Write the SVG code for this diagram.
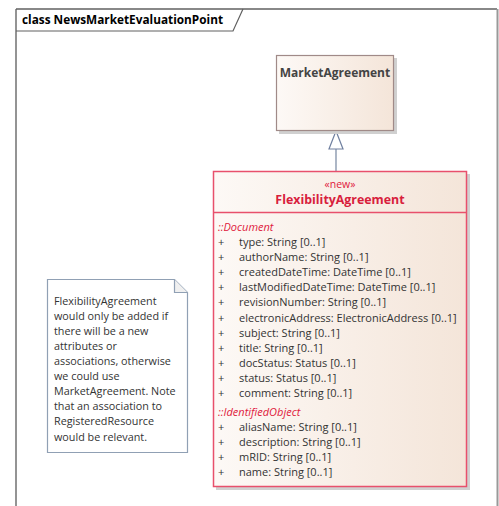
<svg xmlns="http://www.w3.org/2000/svg" width="499" height="506" viewBox="0 0 499 506">
<defs>
<linearGradient id="gClass" x1="0" y1="0" x2="1" y2="0">
<stop offset="0" stop-color="#fdf9f6"/>
<stop offset="1" stop-color="#f4e5d9"/>
</linearGradient>
<style>
.t{font-family:"Open Sans","Noto Sans","DejaVu Sans",sans-serif;}
.title{font-size:11.8px;font-weight:bold;fill:#000;}
.cname{font-weight:bold;}
.attr{font-size:11px;fill:#333;}
.sec{font-size:11px;font-style:italic;fill:#e0203c;}
.note{font-size:10.8px;fill:#333;}
.shadow{fill:#d0d0d0;}
</style>
</defs>
<rect width="499" height="506" fill="#fff"/>
<g id="frame">
<line x1="16" y1="9" x2="16" y2="506" stroke="#707070" stroke-width="1.5"/>
<line x1="16" y1="9" x2="497" y2="9" stroke="#606060" stroke-width="1.5"/>
<line x1="497.5" y1="9" x2="497.5" y2="506" stroke="#999" stroke-width="2"/>
<polyline points="16,31 233,31 243,9" fill="none" stroke="#606060" stroke-width="1.2"/>
<text class="t title" x="22" y="24">class NewsMarketEvaluationPoint</text>
</g>
<g id="connectors">
<line x1="336" y1="149" x2="336" y2="171" stroke="#8090a8" stroke-width="1.3"/>
<polygon points="336,131 329,149 343,149" fill="#fff" stroke="#7080a0" stroke-width="1.2"/>
</g>
<g id="MarketAgreement">
<rect class="shadow" x="279" y="58" width="118" height="76"/>
<rect x="276.5" y="55.5" width="117" height="75" fill="url(#gClass)" stroke="#a08a88" stroke-width="1.2"/>
<text class="t cname" x="335" y="77" text-anchor="middle" font-size="12" fill="#444">MarketAgreement</text>
</g>
<g id="FlexibilityAgreement">
<rect class="shadow" x="216" y="174" width="254" height="316"/>
<rect x="213.5" y="171.5" width="253" height="315" fill="url(#gClass)" stroke="#e8506c" stroke-width="1.5"/>
<line x1="213.5" y1="212.5" x2="466.5" y2="212.5" stroke="#e8506c" stroke-width="1.5"/>
<text class="t" x="340" y="188" text-anchor="middle" font-size="10.5" fill="#e0203c">«new»</text>
<text class="t cname" x="340" y="203.5" text-anchor="middle" font-size="12.4" fill="#d8203c">FlexibilityAgreement</text>
<text class="t sec" x="218" y="231">::Document</text>
<g class="t attr">
<text x="218" y="246">+</text><text x="239" y="246">type: String [0..1]</text>
<text x="218" y="261">+</text><text x="239" y="261">authorName: String [0..1]</text>
<text x="218" y="276">+</text><text x="239" y="276">createdDateTime: DateTime [0..1]</text>
<text x="218" y="291">+</text><text x="239" y="291">lastModifiedDateTime: DateTime [0..1]</text>
<text x="218" y="306">+</text><text x="239" y="306">revisionNumber: String [0..1]</text>
<text x="218" y="322">+</text><text x="239" y="322">electronicAddress: ElectronicAddress [0..1]</text>
<text x="218" y="337">+</text><text x="239" y="337">subject: String [0..1]</text>
<text x="218" y="352">+</text><text x="239" y="352">title: String [0..1]</text>
<text x="218" y="367">+</text><text x="239" y="367">docStatus: Status [0..1]</text>
<text x="218" y="382">+</text><text x="239" y="382">status: Status [0..1]</text>
<text x="218" y="397">+</text><text x="239" y="397">comment: String [0..1]</text>
</g>
<text class="t sec" x="218" y="416">::IdentifiedObject</text>
<g class="t attr">
<text x="218" y="431">+</text><text x="239" y="431">aliasName: String [0..1]</text>
<text x="218" y="446">+</text><text x="239" y="446">description: String [0..1]</text>
<text x="218" y="461">+</text><text x="239" y="461">mRID: String [0..1]</text>
<text x="218" y="476">+</text><text x="239" y="476">name: String [0..1]</text>
</g>
</g>
<g id="note">
<polygon points="47.5,279.5 174.5,279.5 187.5,292.5 187.5,452.5 47.5,452.5" fill="#fff" stroke="#90a0b4" stroke-width="1.2"/>
<polyline points="174.5,279.5 174.5,292.5 187.5,292.5" fill="#f0f0f0" stroke="#90a0b4" stroke-width="1.2"/>
<g class="t note">
<text x="54" y="305">FlexibilityAgreement</text>
<text x="54" y="320">would only be added if</text>
<text x="54" y="335">there will be a new</text>
<text x="54" y="350">attributes or</text>
<text x="54" y="365">associations, otherwise</text>
<text x="54" y="380">we could use</text>
<text x="54" y="395">MarketAgreement. Note</text>
<text x="54" y="410">that an association to</text>
<text x="54" y="425">RegisteredResource</text>
<text x="54" y="441">would be relevant.</text>
</g>
</g>
</svg>
